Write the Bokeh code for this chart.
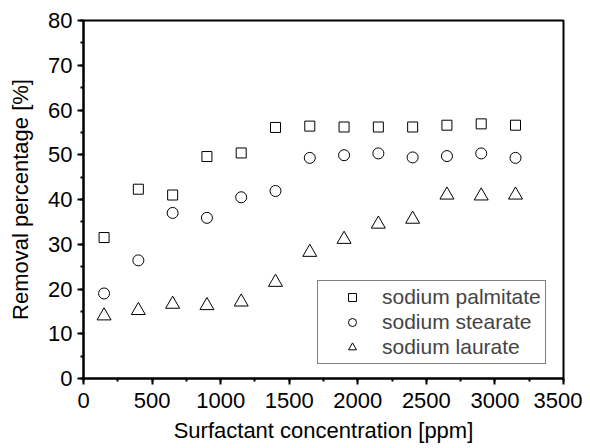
from bokeh.plotting import figure
from bokeh.models import SingleIntervalTicker, Range1d, Legend, LegendItem
from bokeh.embed import file_html
from bokeh.resources import INLINE

conc = [150, 400, 650, 900, 1150, 1400, 1650, 1900, 2150, 2400, 2650, 2900, 3150]
palmitate = [31.5, 42.3, 41.0, 49.6, 50.4, 56.1, 56.4, 56.2, 56.2, 56.2, 56.6, 56.9, 56.6]
stearate = [19.0, 26.4, 37.0, 35.9, 40.5, 41.9, 49.3, 49.9, 50.3, 49.4, 49.7, 50.3, 49.3]
laurate = [14.0, 15.2, 16.6, 16.3, 17.1, 21.5, 28.2, 31.1, 34.5, 35.6, 41.0, 40.8, 41.0]
series_names = ["sodium palmitate", "sodium stearate", "sodium laurate"]

FONT = "Arial"
FS = "22px"

p = figure(width=582, height=448, output_backend="svg", toolbar_location=None,
           x_range=Range1d(0, 3500), y_range=Range1d(0, 80),
           min_border_left=83, min_border_top=20, min_border_right=19, min_border_bottom=70)
p.xgrid.visible = False
p.ygrid.visible = False
p.outline_line_color = "black"
p.outline_line_width = 2

r1 = p.scatter(conc, palmitate, marker="square", size=10, fill_color=None, line_color="black", line_width=1)
r2 = p.scatter(conc, stearate, marker="circle", size=11, fill_color=None, line_color="black", line_width=1)
r3 = p.scatter(conc, laurate, marker="triangle", size=14, fill_color=None, line_color="black", line_width=1)

p.xaxis.ticker = SingleIntervalTicker(interval=500, num_minor_ticks=2)
p.yaxis.ticker = SingleIntervalTicker(interval=10, num_minor_ticks=2)
for ax in (p.xaxis[0], p.yaxis[0]):
    ax.axis_line_width = 2
    ax.axis_line_color = "black"
    ax.major_tick_line_width = 2
    ax.minor_tick_line_width = 2
    ax.major_tick_in = 0
    ax.major_tick_out = 6
    ax.minor_tick_in = 0
    ax.minor_tick_out = 3
    ax.major_label_text_font = FONT
    ax.major_label_text_font_size = FS
    ax.major_label_text_color = "black"
    ax.axis_label_text_font = FONT
    ax.axis_label_text_font_size = FS
    ax.axis_label_text_font_style = "normal"
    ax.axis_label_text_color = "black"
p.xaxis.axis_label = "Surfactant concentration [ppm]"
p.yaxis.axis_label = "Removal percentage [%]"
p.xaxis.major_label_standoff = 8
p.xaxis.axis_label_standoff = 7
p.yaxis.major_label_standoff = 5
p.yaxis.axis_label_standoff = 12

legend = Legend(items=[LegendItem(label=series_names[0], renderers=[r1]),
                       LegendItem(label=series_names[1], renderers=[r2]),
                       LegendItem(label=series_names[2], renderers=[r3])],
                location=(234, 14))
legend.border_line_color = "black"
legend.border_line_width = 1
legend.background_fill_alpha = 1
legend.label_text_font = FONT
legend.label_text_font_size = "21px"
legend.padding = 4
legend.margin = 0
legend.spacing = 1
legend.glyph_width = 60
legend.glyph_height = 20
legend.label_height = 20
legend.label_standoff = 0
p.add_layout(legend, "center")

open("out.html", "w").write(file_html(p, INLINE))
